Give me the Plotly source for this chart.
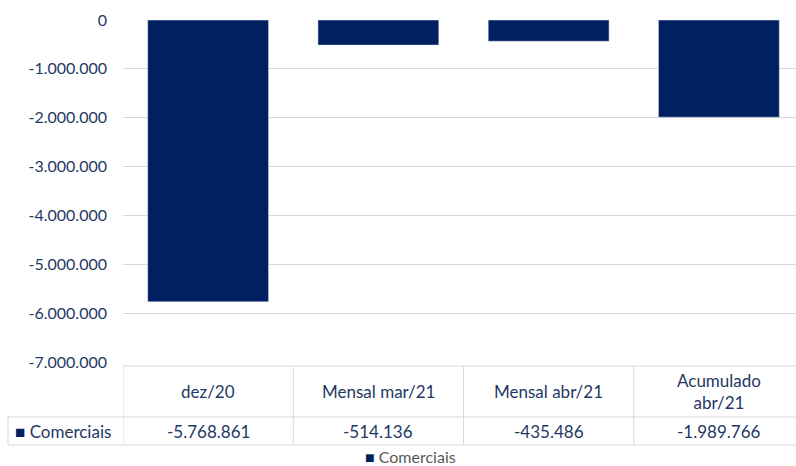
import plotly.graph_objects as go

categories = ["dez/20", "Mensal mar/21", "Mensal abr/21", "Acumulado<br>abr/21"]
series_name = "Comerciais"
values = [-5768861, -514136, -435486, -1989766]
y_ticks = [0, -1000000, -2000000, -3000000, -4000000, -5000000, -6000000, -7000000]

def fmt(v):
    return f"{v:,}".replace(",", ".")

NAVY = "#002060"
TXT = "#1F3864"
GRID = "#D9D9D9"
FONT = "Lato"

W, H = 796, 466
ML, MR, MT, MB = 123, 0, 20, 104
pw = W - ML - MR
ph = H - MT - MB

def py(pix):  # pixel y -> paper y
    return (H - MB - pix) / ph

def px(pix):  # pixel x -> paper x
    return (pix - ML) / pw

xs = list(range(len(categories)))

fig = go.Figure()
fig.add_trace(go.Bar(x=xs, y=values, marker_color=NAVY, width=0.71,
                     name=series_name, showlegend=False, hoverinfo="skip"))

shapes = []
ytop, ymid, ybot = py(366), py(417), py(445)
line = dict(color=GRID, width=1)
shapes.append(dict(type="line", xref="paper", yref="paper", x0=0, x1=1.02, y0=ytop, y1=ytop, line=line))
shapes.append(dict(type="line", xref="paper", yref="paper", x0=px(8), x1=1.02, y0=ymid, y1=ymid, line=line))
shapes.append(dict(type="line", xref="paper", yref="paper", x0=px(8), x1=1.02, y0=ybot, y1=ybot, line=line))
shapes.append(dict(type="line", xref="paper", yref="paper", x0=px(8), x1=px(8), y0=ymid, y1=ybot, line=line))
for i in range(len(categories)):
    xb = i - 0.5
    shapes.append(dict(type="line", xref="x", yref="paper", x0=xb, x1=xb, y0=ytop, y1=ybot, line=line))

TS = 17
annotations = []
for i, (c, v) in enumerate(zip(categories, values)):
    annotations.append(dict(x=i, xref="x", y=(ytop + ymid) / 2, yref="paper", text=c,
                            showarrow=False, font=dict(size=TS, color=TXT, family=FONT),
                            xanchor="center", yanchor="middle"))
    annotations.append(dict(x=i, xref="x", y=(ymid + ybot) / 2, yref="paper", text=fmt(v),
                            showarrow=False, font=dict(size=TS, color=TXT, family=FONT),
                            xanchor="center", yanchor="middle"))
annotations.append(dict(x=px(13), xref="paper", y=(ymid + ybot) / 2, yref="paper",
                        text=f"<span style='color:{NAVY}'>■</span> {series_name}",
                        showarrow=False, font=dict(size=TS, color=TXT, family=FONT),
                        xanchor="left", yanchor="middle"))
annotations.append(dict(x=px(410), xref="paper", y=py(457), yref="paper",
                        text=f"<span style='color:{NAVY}'>■</span> {series_name}",
                        showarrow=False, font=dict(size=16, color="#595959", family=FONT),
                        xanchor="center", yanchor="middle"))

fig.update_layout(
    width=W, height=H,
    margin=dict(l=ML, r=MR, t=MT, b=MB),
    plot_bgcolor="white", paper_bgcolor="white",
    font=dict(family=FONT, size=16, color=TXT),
    shapes=shapes, annotations=annotations,
    xaxis=dict(range=[-0.5, -0.5 + pw / 170.25], showticklabels=False, showgrid=False,
               zeroline=False, showline=False, fixedrange=True),
    yaxis=dict(range=[-7000000, 0], tickvals=y_ticks, ticktext=[fmt(t) for t in y_ticks],
               showgrid=True, gridcolor=GRID, gridwidth=1, zeroline=False, showline=False,
               ticks="", ticklabelstandoff=15, tickfont=dict(size=16, color=TXT, family=FONT)),
)

fig.write_html("out.html", config={"displayModeBar": False},
               post_script="document.body.style.margin='0';document.body.style.overflow='hidden';")
